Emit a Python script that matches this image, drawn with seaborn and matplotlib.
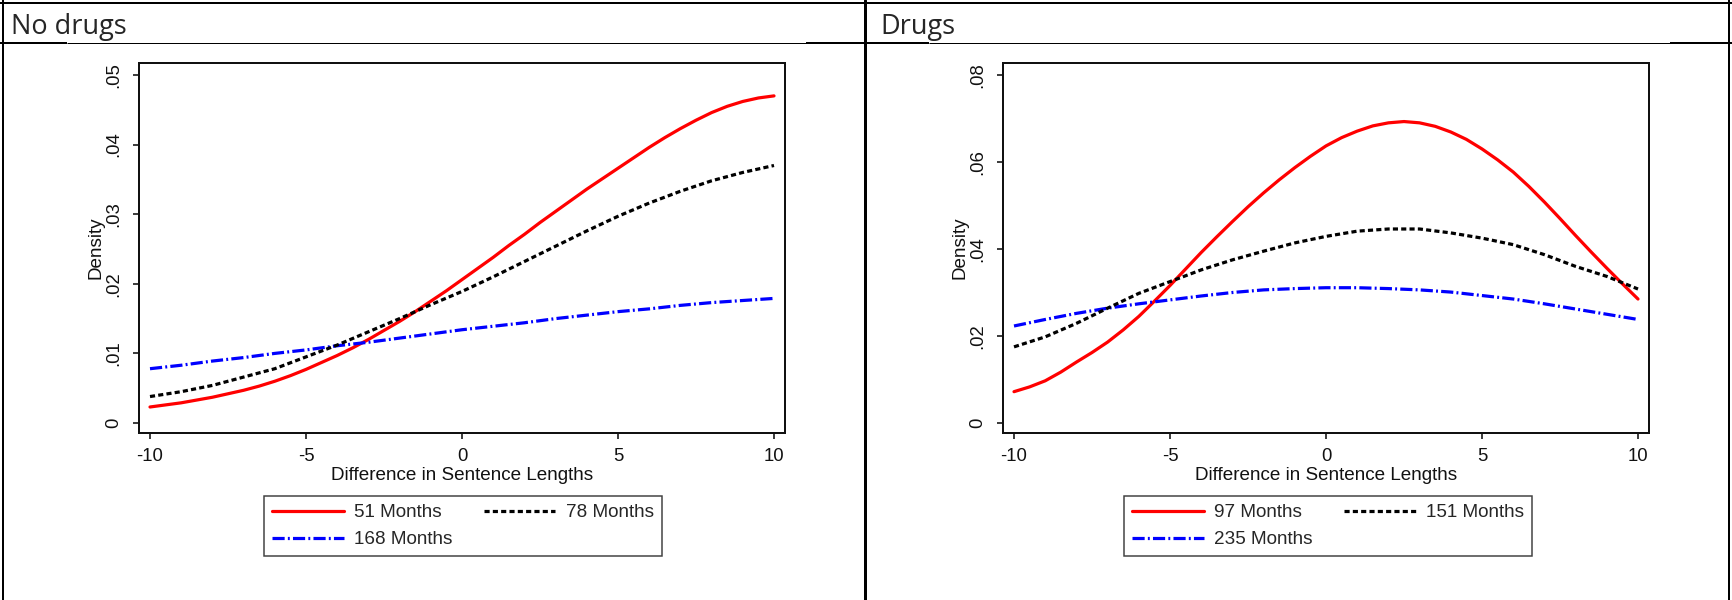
import matplotlib
matplotlib.use("Agg")
import matplotlib.pyplot as plt
import pandas as pd
import seaborn as sns

# Differences in sentence lengths at which the densities are evaluated
x_grid = list(range(-10, 11))
x_half = [v / 2 for v in range(-20, 21)]

# "No drugs" panel: densities by mean sentence length (51-month curve read every half unit)
nodrug_labels = ["51 Months", "78 Months", "168 Months"]
nodrug_51 = [0.0023, 0.0026, 0.0029, 0.0033, 0.0037, 0.0042, 0.0047, 0.0053, 0.0060, 0.0068, 0.0077,
             0.0087, 0.0097, 0.0108, 0.0120, 0.0133, 0.0146, 0.0160, 0.0175, 0.0190, 0.0206,
             0.0222, 0.0238, 0.0255, 0.0271, 0.0288, 0.0304, 0.0320, 0.0336, 0.0351, 0.0366,
             0.0381, 0.0396, 0.0410, 0.0423, 0.0435, 0.0446, 0.0455, 0.0462, 0.0467, 0.0470]
nodrug_78 = [0.0038, 0.0045, 0.0054, 0.0066, 0.0078, 0.0095, 0.0112, 0.0131, 0.0150, 0.0170, 0.0189,
             0.0210, 0.0232, 0.0254, 0.0276, 0.0297, 0.0316, 0.0333, 0.0348, 0.0360, 0.0370]
nodrug_168 = [0.0078, 0.0083, 0.0089, 0.0094, 0.0100, 0.0105, 0.0111, 0.0116, 0.0122, 0.0128, 0.0134,
              0.0139, 0.0144, 0.0150, 0.0155, 0.0160, 0.0164, 0.0169, 0.0173, 0.0176, 0.0179]

# "Drugs" panel (the 97-month curve is read every half unit)
drug_labels = ["97 Months", "151 Months", "235 Months"]
drug_97 = [0.0072, 0.0083, 0.0097, 0.0117, 0.0140, 0.0162, 0.0186, 0.0214, 0.0245, 0.0280, 0.0316,
           0.0354, 0.0392, 0.0428, 0.0463, 0.0497, 0.0529, 0.0559, 0.0587, 0.0613, 0.0637,
           0.0656, 0.0671, 0.0683, 0.0690, 0.0693, 0.0690, 0.0682, 0.0669, 0.0652, 0.0630,
           0.0605, 0.0577, 0.0544, 0.0508, 0.0470, 0.0431, 0.0393, 0.0356, 0.0320, 0.0285]
drug_151 = [0.0175, 0.0198, 0.0229, 0.0264, 0.0298, 0.0325, 0.0352, 0.0375, 0.0395, 0.0414, 0.0429,
            0.0441, 0.0446, 0.0446, 0.0437, 0.0425, 0.0410, 0.0387, 0.0360, 0.0337, 0.0308]
drug_235 = [0.0223, 0.0238, 0.0252, 0.0264, 0.0274, 0.0283, 0.0292, 0.0300, 0.0306, 0.0309, 0.0311,
            0.0311, 0.0309, 0.0306, 0.0301, 0.0293, 0.0285, 0.0274, 0.0262, 0.0250, 0.0238]

nodrug_yticks = [0, 0.01, 0.02, 0.03, 0.04, 0.05]
nodrug_yticklabels = ["0", ".01", ".02", ".03", ".04", ".05"]
drug_yticks = [0, 0.02, 0.04, 0.06, 0.08]
drug_yticklabels = ["0", ".02", ".04", ".06", ".08"]
xticks = [-10, -5, 0, 5, 10]
xticklabels = ["-10", "-5", "0", "5", "10"]

sns.set_theme(style="ticks")
plt.rcParams["font.family"] = ["Liberation Sans", "DejaVu Sans"]

W, H = 1732, 600
PX = 0.72  # points per pixel at 100 dpi
fig = plt.figure(figsize=(W / 100, H / 100), dpi=100)
fig.patch.set_facecolor("white")

# Table grid drawn in pixel coordinates underneath the graphs
bg = fig.add_axes([0, 0, 1, 1], zorder=-1)
bg.set_xlim(0, W)
bg.set_ylim(H, 0)
bg.axis("off")
bg.plot([0, W], [2.5, 2.5], color="black", lw=2 * PX)
bg.plot([3, 3], [0, H], color="black", lw=2 * PX)
bg.plot([865, 865], [0, H], color="black", lw=3 * PX)
bg.plot([1729, 1729], [0, H], color="black", lw=2 * PX)
for x0, x1 in [(0, 67), (806, 929), (1670, W)]:
    bg.plot([x0, x1], [43, 43], color="black", lw=2 * PX, solid_capstyle="butt")
for x0, x1 in [(67, 806), (929, 1670)]:
    bg.plot([x0, x1], [43, 43], color="black", lw=1 * PX, solid_capstyle="butt")
bg.text(11, 34, "No drugs", fontfamily="Open Sans", fontsize=19.5, va="baseline", ha="left")
bg.text(880, 34, "Drugs", fontfamily="Open Sans", fontsize=19.5, va="baseline", ha="left")

LW = 3.2  # curve width in pixels
TXT = 13.6  # axis label and legend text size


def long_frame(labels, xs, series):
    rows = {"diff": [], "density": [], "group": []}
    for lab, xv, vals in zip(labels, xs, series):
        rows["diff"] += list(xv)
        rows["density"] += vals
        rows["group"] += [lab] * len(vals)
    return pd.DataFrame(rows)


def draw_panel(left_px, labels, xs, series, yticks, yticklabels, ymax, legend_left_px):
    top_px, w_px, h_px = 63, 646, 370
    ax = fig.add_axes([left_px / W, 1 - (top_px + h_px) / H, w_px / W, h_px / H])
    df = long_frame(labels, xs, series)
    palette = {labels[0]: "#ff0000", labels[1]: "#000000", labels[2]: "#0000ff"}
    dashes = {labels[0]: "", labels[1]: (1.6, 1.0), labels[2]: (3.8, 1.0, 0.6, 1.0)}
    order = [labels[0], labels[2], labels[1]]
    sns.lineplot(data=df, x="diff", y="density", hue="group", style="group",
                 hue_order=order, style_order=order, palette=palette, dashes=dashes,
                 linewidth=LW * PX, ax=ax)

    # value 0 sits 10 px above the frame bottom, the top tick 12 px below the frame top
    per_px = ymax / 348.0
    ax.set_ylim(-10 * per_px, ymax + 12 * per_px)
    ax.set_xlim(-10 - 11 / 31.2, 10 + 11 / 31.2)

    ax.set_xticks(xticks)
    ax.set_xticklabels(xticklabels)
    ax.set_yticks(yticks)
    ax.set_yticklabels(yticklabels, rotation=90, va="center")
    ax.tick_params(axis="both", direction="out", length=6 * PX, width=1.5 * PX,
                   color="black", labelsize=13.3, labelcolor="#111111")
    ax.tick_params(axis="x", pad=9 * PX)
    ax.tick_params(axis="y", pad=11 * PX)
    for sp in ax.spines.values():
        sp.set_visible(True)
        sp.set_color("#111111")
        sp.set_linewidth(2 * PX)

    ax.set_xlabel("Difference in Sentence Lengths", fontsize=TXT, color="#111111")
    ax.xaxis.set_label_coords(0.5, (433 - 467) / h_px)
    ax.set_ylabel("Density", fontsize=TXT, color="#111111")
    ax.yaxis.set_label_coords(-35 / w_px, 0.5)

    handles, labs = ax.get_legend_handles_labels()
    ax.get_legend().remove()
    leg = ax.legend(handles, labs, ncol=2, loc="upper left",
                    bbox_to_anchor=(legend_left_px / W, 1 - 496 / H),
                    bbox_transform=fig.transFigure, frameon=True, fancybox=False,
                    edgecolor="#111111", fontsize=TXT, handlelength=3.8,
                    handletextpad=0.55, columnspacing=1.65, borderpad=0.42,
                    labelspacing=0.52, borderaxespad=0)
    leg.get_frame().set_linewidth(1.5 * PX)
    for line in leg.get_lines():
        line.set_linewidth(LW * PX)
    return ax


draw_panel(139, nodrug_labels, [x_half, x_grid, x_grid], [nodrug_51, nodrug_78, nodrug_168],
           nodrug_yticks, nodrug_yticklabels, 0.05, 264)
draw_panel(1003, drug_labels, [x_half, x_grid, x_grid], [drug_97, drug_151, drug_235],
           drug_yticks, drug_yticklabels, 0.08, 1124)

fig.savefig("out.png", dpi=100, facecolor="white")
